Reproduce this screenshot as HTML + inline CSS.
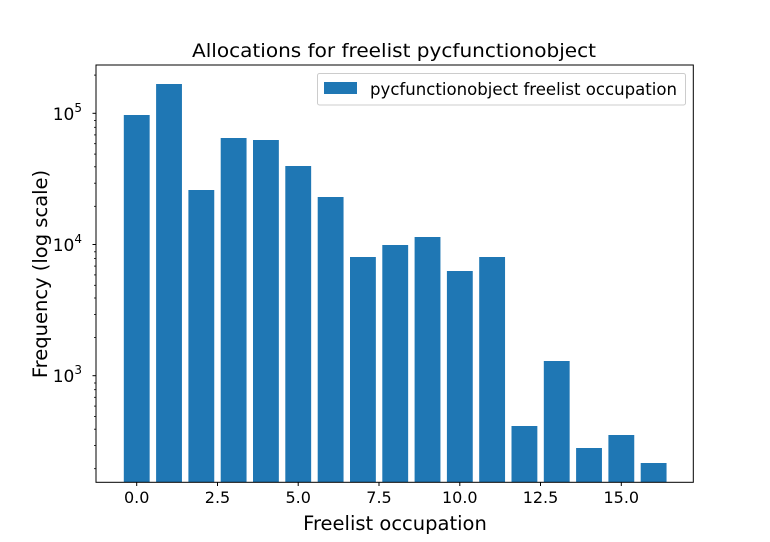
<!DOCTYPE html>
<html><head><meta charset="utf-8"><style>body{margin:0;background:#fff}svg{display:block}text{font-family:"DejaVu Sans","Liberation Sans",sans-serif;fill:#000}</style></head>
<body>
<svg width="770" height="542" xmlns="http://www.w3.org/2000/svg">
<rect width="770" height="542" fill="#fff"/>
<g fill="#1f77b4">
<rect x="123.8" y="115" width="25.85" height="367.3"/>
<rect x="156.1" y="84" width="25.85" height="398.3"/>
<rect x="188.4" y="190" width="25.85" height="292.3"/>
<rect x="220.7" y="138" width="25.85" height="344.3"/>
<rect x="253.0" y="140" width="25.85" height="342.3"/>
<rect x="285.3" y="166" width="25.85" height="316.3"/>
<rect x="317.7" y="197" width="25.85" height="285.3"/>
<rect x="350.0" y="257" width="25.85" height="225.3"/>
<rect x="382.3" y="245" width="25.85" height="237.3"/>
<rect x="414.6" y="237" width="25.85" height="245.3"/>
<rect x="446.9" y="271" width="25.85" height="211.3"/>
<rect x="479.2" y="257" width="25.85" height="225.3"/>
<rect x="511.5" y="426" width="25.85" height="56.3"/>
<rect x="543.8" y="361" width="25.85" height="121.3"/>
<rect x="576.1" y="448" width="25.85" height="34.3"/>
<rect x="608.4" y="435" width="25.85" height="47.3"/>
<rect x="640.7" y="463" width="25.85" height="19.3"/>
</g>
<rect x="96" y="65" width="597.3" height="417.3" fill="none" stroke="#000" stroke-width="1"/>
<g stroke="#000" stroke-width="1">
<line x1="136.7" y1="482.3" x2="136.7" y2="486"/>
<line x1="217.5" y1="482.3" x2="217.5" y2="486"/>
<line x1="298.2" y1="482.3" x2="298.2" y2="486"/>
<line x1="379.0" y1="482.3" x2="379.0" y2="486"/>
<line x1="459.8" y1="482.3" x2="459.8" y2="486"/>
<line x1="540.5" y1="482.3" x2="540.5" y2="486"/>
<line x1="621.3" y1="482.3" x2="621.3" y2="486"/>
<line x1="92.5" y1="113.3" x2="96" y2="113.3"/>
<line x1="92.5" y1="244.5" x2="96" y2="244.5"/>
<line x1="92.5" y1="375.7" x2="96" y2="375.7"/>
</g>
<g stroke="#000" stroke-width="0.8">
<line x1="94" y1="468.7" x2="96" y2="468.7"/><line x1="94" y1="445.6" x2="96" y2="445.6"/><line x1="94" y1="429.2" x2="96" y2="429.2"/><line x1="94" y1="416.5" x2="96" y2="416.5"/><line x1="94" y1="406.1" x2="96" y2="406.1"/><line x1="94" y1="397.3" x2="96" y2="397.3"/><line x1="94" y1="389.7" x2="96" y2="389.7"/><line x1="94" y1="383.0" x2="96" y2="383.0"/>
<line x1="94" y1="337.5" x2="96" y2="337.5"/><line x1="94" y1="314.4" x2="96" y2="314.4"/><line x1="94" y1="298.0" x2="96" y2="298.0"/><line x1="94" y1="285.3" x2="96" y2="285.3"/><line x1="94" y1="274.9" x2="96" y2="274.9"/><line x1="94" y1="266.1" x2="96" y2="266.1"/><line x1="94" y1="258.5" x2="96" y2="258.5"/><line x1="94" y1="251.8" x2="96" y2="251.8"/>
<line x1="94" y1="206.3" x2="96" y2="206.3"/><line x1="94" y1="183.2" x2="96" y2="183.2"/><line x1="94" y1="166.8" x2="96" y2="166.8"/><line x1="94" y1="154.1" x2="96" y2="154.1"/><line x1="94" y1="143.7" x2="96" y2="143.7"/><line x1="94" y1="134.9" x2="96" y2="134.9"/><line x1="94" y1="127.3" x2="96" y2="127.3"/><line x1="94" y1="120.6" x2="96" y2="120.6"/>
<line x1="94" y1="75.1" x2="96" y2="75.1"/>
</g>
<g font-size="16" text-anchor="middle">
<text x="136.7" y="503">0.0</text><text x="217.5" y="503">2.5</text><text x="298.2" y="503">5.0</text><text x="379.0" y="503">7.5</text><text x="459.8" y="503">10.0</text><text x="540.5" y="503">12.5</text><text x="621.3" y="503">15.0</text>
</g>
<g font-size="17" text-anchor="end">
<text x="82" y="120">10<tspan font-size="12" dy="-8">5</tspan></text>
<text x="82" y="251">10<tspan font-size="12" dy="-8">4</tspan></text>
<text x="82" y="382">10<tspan font-size="12" dy="-8">3</tspan></text>
</g>
<text x="395" y="530" font-size="19.5" text-anchor="middle">Freelist occupation</text>
<text transform="translate(47,274) rotate(-90)" font-size="19.5" text-anchor="middle">Frequency (log scale)</text>
<text x="192" y="57" font-size="19" textLength="404" lengthAdjust="spacingAndGlyphs">Allocations for freelist pycfunctionobject</text>
<rect x="317.5" y="73.5" width="368" height="31.5" rx="2" fill="#fff" fill-opacity="0.8" stroke="#ccc"/>
<rect x="324" y="82" width="33" height="12" fill="#1f77b4"/>
<text x="370" y="95" font-size="16.6" textLength="307" lengthAdjust="spacingAndGlyphs">pycfunctionobject freelist occupation</text>
</svg>
</body></html>
